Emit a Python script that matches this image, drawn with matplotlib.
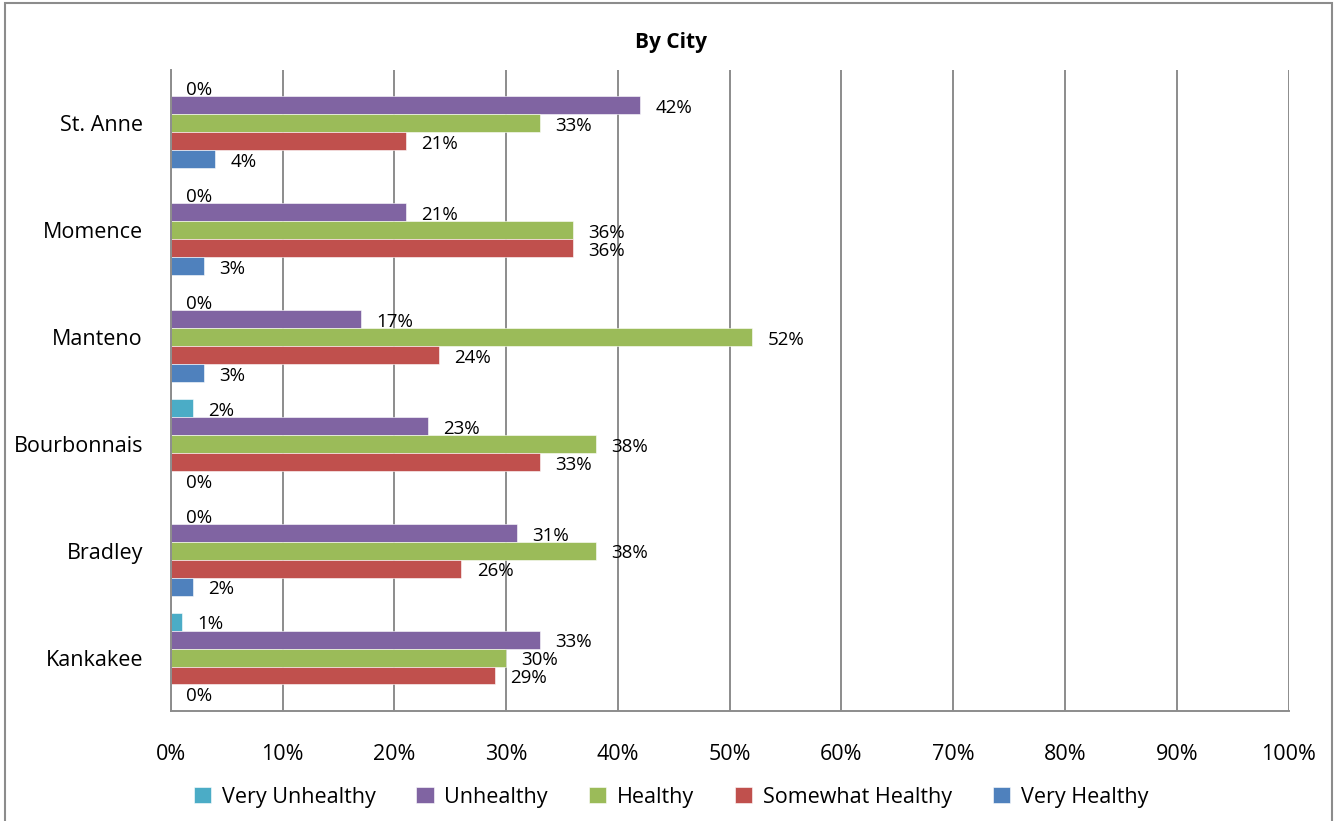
import matplotlib.pyplot as plt
import numpy as np
from matplotlib.patches import Rectangle

plt.rcParams['font.family'] = ['Open Sans', 'DejaVu Sans']

cities = ["Kankakee", "Bradley", "Bourbonnais", "Manteno", "Momence", "St. Anne"]
series = ["Very Unhealthy", "Unhealthy", "Healthy", "Somewhat Healthy", "Very Healthy"]
colors = ["#4BACC6", "#8064A2", "#9BBB59", "#C0504D", "#4F81BD"]

very_unhealthy = [1, 0, 2, 0, 0, 0]
unhealthy = [33, 31, 23, 17, 21, 42]
healthy = [30, 38, 38, 52, 36, 33]
somewhat_healthy = [29, 26, 33, 24, 36, 21]
very_healthy = [0, 2, 0, 3, 3, 4]
values = [very_unhealthy, unhealthy, healthy, somewhat_healthy, very_healthy]

fig = plt.figure(figsize=(13.34, 8.21), dpi=100)
ax = fig.add_axes([0.128, 0.134, 0.838, 0.781])

y = np.arange(len(cities))
h = 0.168
# top bar is Very Unhealthy, bottom is Very Healthy
offsets = [2 * h, h, 0, -h, -2 * h]
for name, vals, col, off in zip(series, values, colors, offsets):
    bars = ax.barh(y + off, vals, height=h, color=col, label=name,
                   edgecolor="white", linewidth=0.4)
    for b, v in zip(bars, vals):
        ax.annotate(f"{v}%", (b.get_width(), b.get_y() + b.get_height() / 2),
                    xytext=(11, -2), textcoords="offset points",
                    ha="left", va="center", fontsize=13.5)

ax.set_xlim(0, 100)
ax.set_ylim(-0.5, len(cities) - 0.5)
ax.set_xticks(np.arange(0, 101, 10))
ax.set_xticklabels([f"{t}%" for t in range(0, 101, 10)], fontsize=15.5)
ax.set_yticks(y)
ax.set_yticklabels(cities, fontsize=15.5)
ax.tick_params(axis="x", length=0, pad=24)
ax.tick_params(axis="y", length=0, pad=20)
ax.xaxis.grid(True, color="#8c8c8c", linewidth=1.4)
ax.set_axisbelow(True)
for s in ["top", "right"]:
    ax.spines[s].set_visible(False)
for s in ["left", "bottom"]:
    ax.spines[s].set_color("#8c8c8c")
    ax.spines[s].set_linewidth(1.4)

fig.text(0.503, 0.948, "By City", ha="center", va="center", fontsize=15, fontweight="bold")

handles, labels = ax.get_legend_handles_labels()
fig.legend(handles, labels, loc="center", bbox_to_anchor=(0.503, 0.029), ncol=5,
           frameon=False, fontsize=15.5, handlelength=0.8, handleheight=0.8,
           columnspacing=1.9, handletextpad=0.5)

fig.patches.append(Rectangle((5 / 1334, -0.05), 1327 / 1334, 1.05 - 3 / 821,
                             transform=fig.transFigure, fill=False,
                             edgecolor="#8c8c8c", linewidth=1.5))

fig.savefig("out.png", dpi=100)
